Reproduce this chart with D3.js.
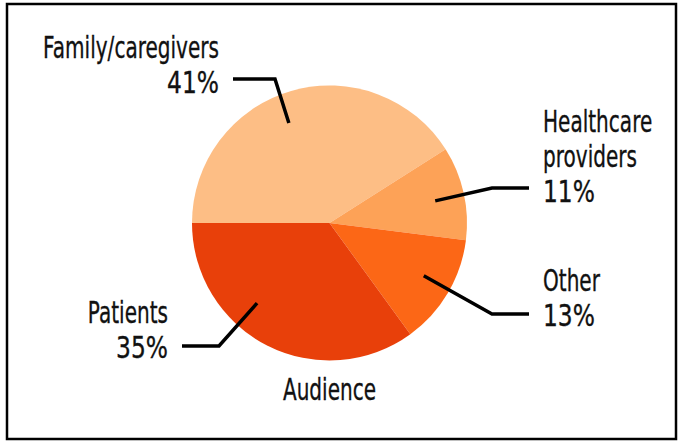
<!DOCTYPE html>
<html>
<head>
<meta charset="utf-8">
<script src="https://cdn.jsdelivr.net/npm/d3@7"></script>
<style>
  html, body { margin: 0; padding: 0; background: #fff; }
  svg { display: block; }
  text { font-family: "DejaVu Sans", sans-serif; fill: #111; stroke: #111; stroke-width: 0.35px; }
</style>
</head>
<body>
<svg id="chart" width="680" height="441"></svg>
<script>
// ---- data ----
const categories = ["Family/caregivers", "Healthcare providers", "Other", "Patients"];
const values = [41, 11, 13, 35];
const percentLabels = ["41%", "11%", "13%", "35%"];
const colors = ["#FDBE85", "#FDA257", "#FC6716", "#E8400A"];
const title = "Audience";

// ---- layout ----
const cx = 329.5, cy = 223, R = 137.5;
const fontSize = 30;
const lineH = 35;
const nameLines = [
  ["Family/caregivers"],
  ["Healthcare", "providers"],
  ["Other"],
  ["Patients"]
];
const leaderFrac = [0.46, 0.52, 0.47, 0.62];
const leaderR = 108;
const elbows = [[275, 79], [492, 188], [492, 314], [219, 346]];
const ends = [[233, 79], [529, 188], [529, 314], [182, 346]];
const textPos = [
  [219, 93, "end"], [543, 202, "start"], [543, 326, "start"], [168, 358, "end"]
];

const svg = d3.select("#chart");

svg.append("rect").attr("x", 7).attr("y", 4).attr("width", 669).attr("height", 435)
  .attr("fill", "none").attr("stroke", "#000").attr("stroke-width", 2.5);

const pie = d3.pie().sort(null)
  .startAngle(1.5 * Math.PI).endAngle(3.5 * Math.PI)
  .value(d => d);
const arcs = pie(values);
const arc = d3.arc().innerRadius(0).outerRadius(R);

const g = svg.append("g").attr("transform", `translate(${cx},${cy})`);
g.selectAll("path").data(arcs).enter().append("path")
  .attr("d", arc)
  .attr("fill", (d, i) => colors[i]);

// measure condensing factors
function measure(s) {
  const p = svg.append("text").style("font-size", fontSize + "px").text(s);
  const w = p.node().getComputedTextLength();
  p.remove();
  return w;
}
const sx = 176 / measure("Family/caregivers");
const sxPct = 52 / measure("35%");

function addLine(x, y, anchor, s, scale) {
  svg.append("g").attr("transform", `translate(${x},${y}) scale(${scale},1)`)
    .append("text").attr("text-anchor", anchor).style("font-size", fontSize + "px").text(s);
}

arcs.forEach((d, i) => {
  const a = d.startAngle + (d.endAngle - d.startAngle) * leaderFrac[i];
  const p0 = [cx + leaderR * Math.sin(a), cy - leaderR * Math.cos(a)];
  svg.append("polyline")
    .attr("points", [p0, elbows[i], ends[i]].map(p => p.join(",")).join(" "))
    .attr("fill", "none").attr("stroke", "#000").attr("stroke-width", 3.5);
  const [tx, ty, anchor] = textPos[i];
  const lines = nameLines[i];
  lines.forEach((ln, j) => addLine(tx, ty - (lines.length - j) * lineH, anchor, ln, sx));
  addLine(tx, ty, anchor, percentLabels[i], sxPct);
});

addLine(cx, 400, "middle", title, sx);
</script>
</body>
</html>
